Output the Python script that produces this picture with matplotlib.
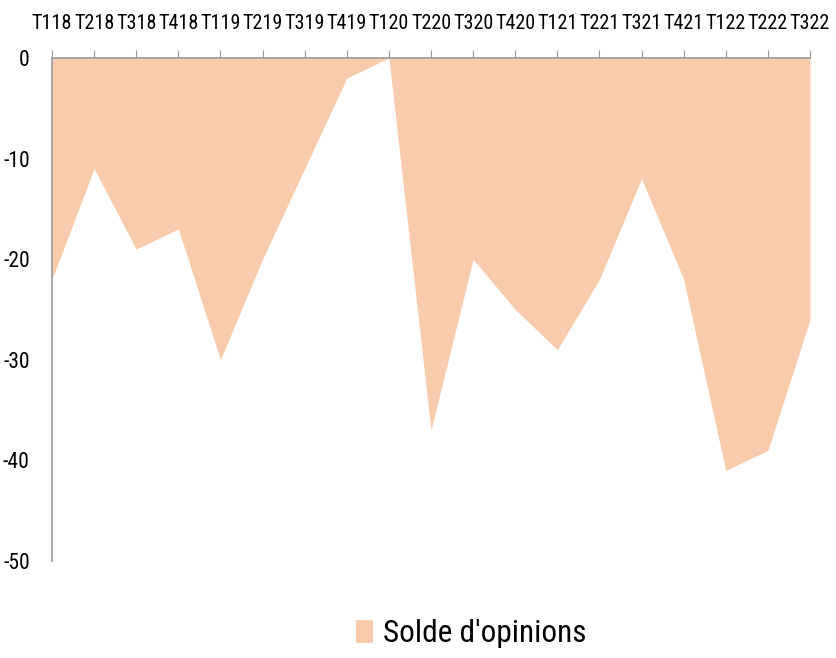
import matplotlib
matplotlib.use("Agg")
import matplotlib.pyplot as plt
from matplotlib import font_manager
from matplotlib.patches import Patch

# Quarters (Tq + yy) and balance of opinions
quarters = ['T118', 'T218', 'T318', 'T418', 'T119', 'T219', 'T319', 'T419', 'T120',
            'T220', 'T320', 'T420', 'T121', 'T221', 'T321', 'T421', 'T122', 'T222', 'T322']
solde = [-22, -11, -19, -17, -30, -20, -11, -2, 0,
         -37, -20, -25, -29, -22, -12, -22, -41, -39, -26]

fill_colour = '#F8CBAD'

# look for a narrow font (the original looks like Calibri)
narrow = None
for f in font_manager.fontManager.ttflist:
    if f.name in ('Liberation Sans Narrow', 'Roboto Condensed', 'Open Sans Condensed'):
        narrow = f.name
        break
    if f.fname.endswith('DejaVuSansCondensed.ttf'):
        narrow = 'DejaVu Sans'
plt.rcParams['font.family'] = [narrow or 'DejaVu Sans', 'DejaVu Sans']
plt.rcParams['font.stretch'] = 'condensed'
scale = 1.0 if narrow else 0.85

fig = plt.figure(figsize=(8.36, 6.58), dpi=100)
ax = fig.add_axes([52 / 836, 1 - 561 / 658, (810 - 52) / 836, (561 - 58) / 658])

x = list(range(len(quarters)))
ax.fill_between(x, solde, 0, color=fill_colour, linewidth=0)

ax.set_xlim(0, len(quarters) - 1)
ax.set_ylim(-50, 0)
ax.set_yticks([0, -10, -20, -30, -40, -50])
ax.set_yticklabels(['0', '-10', '-20', '-30', '-40', '-50'])

ax.xaxis.tick_top()
ax.set_xticks(x)
ax.set_xticklabels(quarters)
ax.tick_params(axis='x', direction='out', length=6, color='#999999', labelsize=14.5 * scale, pad=12)
ax.tick_params(axis='y', length=0, labelsize=15.5 * scale, pad=16)

for side in ['right', 'bottom']:
    ax.spines[side].set_visible(False)
for side in ['top', 'left']:
    ax.spines[side].set_color('#999999')
    ax.spines[side].set_linewidth(1.2)

handle = Patch(facecolor=fill_colour, edgecolor='none')
fig.legend([handle], ["Solde d'opinions"], loc='center', bbox_to_anchor=(471 / 836, 1 - 634 / 658),
           frameon=False, fontsize=22.5 * scale, handlelength=0.55, handleheight=0.75, handletextpad=0.3)

fig.savefig('out.png', dpi=100)
